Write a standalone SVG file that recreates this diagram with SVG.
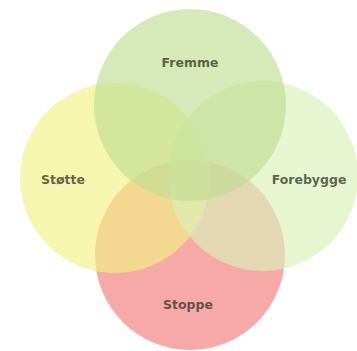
<svg xmlns="http://www.w3.org/2000/svg" width="357" height="351" viewBox="0 0 357 351">
<style>
.c{opacity:0.65}
.t{font-family:"DejaVu Sans",Verdana,sans-serif;font-weight:bold;font-size:12.5px;fill:#2e3320;fill-opacity:0.75;text-anchor:middle}
</style>
<rect width="357" height="351" fill="#ffffff"/>
<g id="stoppe">
<circle class="c" cx="190" cy="255" r="95" fill="#f37b79"/>
</g>
<g id="stotte">
<circle class="c" cx="115" cy="178" r="95" fill="#f3f185"/>
</g>
<g id="forebygge">
<circle class="c" cx="263" cy="176" r="95" fill="#d9f1b8"/>
</g>
<g id="fremme">
<circle class="c" cx="190" cy="105" r="96" fill="#c0dd92"/>
</g>
<g id="connectors"></g>
<g id="labels">
<text class="t" x="190" y="67">Fremme</text>
<text class="t" x="63" y="184">Støtte</text>
<text class="t" x="309" y="184">Forebygge</text>
<text class="t" x="188" y="309">Stoppe</text>
</g>
</svg>
